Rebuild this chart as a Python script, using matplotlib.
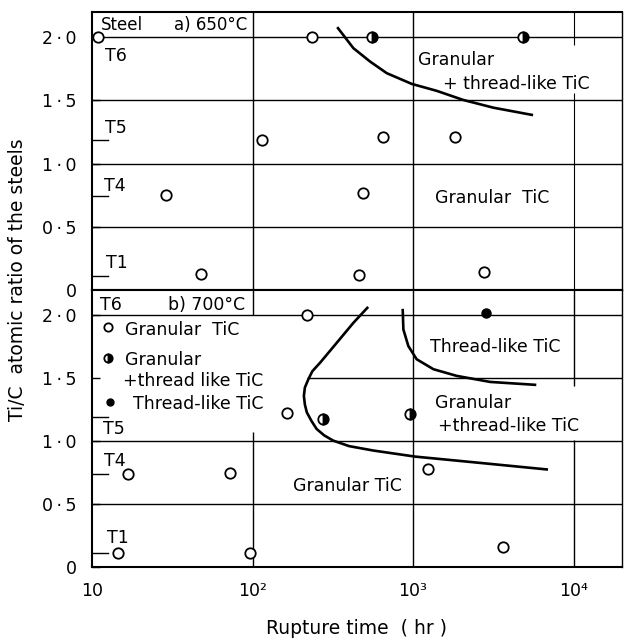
import matplotlib
matplotlib.use("Agg")
import matplotlib.pyplot as plt

plt.rcParams['font.family'] = ['DejaVu Sans']

# steels (Ti/C atomic ratio)
steel_names = ['T1', 'T4', 'T5', 'T6']
steel_ratio = [0.11, 0.74, 1.19, 2.0]

# a) 650C : rupture time (hr), Ti/C, structure
t650 = [10.9, 234, 556, 4840, 115, 650, 1830, 29, 490, 48, 460, 2750]
r650 = [2.0, 2.0, 2.0, 2.0, 1.19, 1.21, 1.21, 0.75, 0.77, 0.13, 0.12, 0.14]
k650 = ['open', 'open', 'half', 'half', 'open', 'open', 'open',
        'open', 'open', 'open', 'open', 'open']

# b) 700C
t700 = [219, 2830, 163, 276, 955, 16.8, 72, 1245, 14.5, 97, 3640]
r700 = [2.0, 2.02, 1.22, 1.175, 1.215, 0.74, 0.75, 0.78, 0.11, 0.11, 0.16]
k700 = ['open', 'full', 'open', 'half', 'half', 'open', 'open', 'open',
        'open', 'open', 'open']

# boundary curves
c650_t = [341, 425, 540, 686, 982, 1406, 2056, 3162, 5495]
c650_r = [2.072, 1.914, 1.808, 1.716, 1.631, 1.576, 1.504, 1.443, 1.386]

c700a_t = [519, 425, 335, 264, 236, 223, 212, 209, 212, 218, 233, 251, 280, 318,
           400, 566, 1028, 2377, 6808]
c700a_r = [2.058, 1.939, 1.781, 1.623, 1.555, 1.492, 1.425, 1.360, 1.290, 1.228,
           1.160, 1.096, 1.045, 1.004, 0.960, 0.925, 0.877, 0.832, 0.775]

c700b_t = [863, 871, 935, 1054, 1340, 1871, 3020, 5754]
c700b_r = [2.040, 1.887, 1.755, 1.650, 1.571, 1.518, 1.470, 1.447]

W, H = 625, 643
XMAX = 10 ** (1 + 530 / 160.5)


def fx(x):
    return x / W


def fy(y):
    return 1 - y / H


fig = plt.figure(figsize=(6.25, 6.43), dpi=100)
ax_top = fig.add_axes([fx(92), fy(290), 530 / W, 278 / H])
ax_bot = fig.add_axes([fx(92), fy(567), 530 / W, 277 / H])

style = {'open': dict(marker='o', ms=7.5, mfc='white', mec='black', mew=1.3),
         'half': dict(marker='o', ms=7.5, mfc='black', mfcalt='white', mec='black',
                      mew=1.3, fillstyle='right'),
         'full': dict(marker='o', ms=6.5, mfc='black', mec='black')}

gl = dict(color='black', lw=1.0, zorder=1)

for ax in (ax_top, ax_bot):
    ax.set_xscale('log')
    ax.set_xlim(10, XMAX)
    ax.set_ylim(0, 2.2)
    ax.set_yticks([0, 0.5, 1.0, 1.5, 2.0])
    ax.set_yticklabels(['0', '0\u2009·\u20095', '1\u2009·\u20090',
                        '1\u2009·\u20095', '2\u2009·\u20090'], fontsize=12.5)
    ax.tick_params(axis='y', direction='in', length=6, width=1, pad=11)
    ax.tick_params(axis='x', which='both', length=0)
    ax.minorticks_off()
    for s in ax.spines.values():
        s.set_linewidth(1.5)
    ax.spines['right'].set_linewidth(1.0)
    # Ti/C level marks of the steels
    for r in steel_ratio[:3]:
        ax.axhline(r, xmin=0, xmax=0.03, color='black', lw=1.0)

ax_top.set_xticks([])
ax_bot.set_xticks([10, 100, 1000, 10000])
ax_bot.set_xticklabels(['10', '10²', '10³', '10⁴'], fontsize=12.5)
ax_bot.tick_params(axis='x', pad=11)

# grid, top panel
for y in [0.5, 1.0, 1.5, 2.0]:
    ax_top.axhline(y, **gl)
ax_top.axvline(100, **gl)
ax_top.axvline(1000, **gl)
ax_top.vlines(10000, 0, 1.56, lw=0.8, color='black', zorder=1)
ax_top.vlines(10000, 1.94, 2.2, lw=0.8, color='black', zorder=1)

# grid, bottom panel
for y in [0.5, 1.0, 2.0]:
    ax_bot.axhline(y, **gl)
ax_bot.hlines(1.5, 220, XMAX, **gl)
ax_bot.vlines(100, 0, 1.07, **gl)
ax_bot.vlines(100, 2.0, 2.2, **gl)
ax_bot.axvline(1000, **gl)
ax_bot.vlines(10000, 0, 1.01, **gl)
ax_bot.vlines(10000, 1.44, 2.2, **gl)

for ax, t, r, k in [(ax_top, t650, r650, k650), (ax_bot, t700, r700, k700)]:
    for xi, yi, ki in zip(t, r, k):
        ax.plot([xi], [yi], ls='none', zorder=4, clip_on=False, **style[ki])

ax_top.plot(c650_t, c650_r, color='black', lw=1.9, zorder=3)
ax_bot.plot(c700a_t, c700a_r, color='black', lw=1.9, zorder=3)
ax_bot.plot(c700b_t, c700b_r, color='black', lw=1.9, zorder=3)

fs = 12.5


def label(x, y, s, size=fs, ha='left'):
    fig.text(fx(x), fy(y), s, fontsize=size, ha=ha, va='center')


# top panel texts
label(101, 25, 'Steel', 12)
label(247, 25, 'a) 650°C', 12, 'right')
label(105, 56, 'T6')
label(105, 128, 'T5')
label(104, 186, 'T4')
label(106, 263, 'T1')
label(418, 60, 'Granular')
label(443, 84, '+ thread-like TiC')
label(435, 198, 'Granular  TiC')

# bottom panel texts
label(100, 305, 'T6')
label(245, 305, 'b) 700°C', 12.5, 'right')
label(103, 429, 'T5')
label(104, 461, 'T4')
label(107, 538, 'T1')
label(430, 347, 'Thread-like TiC')
label(435, 403, 'Granular')
label(438, 426, '+thread-like TiC')
label(293, 486, 'Granular TiC')

# legend
for (mx, my), k in zip([(108, 327), (108, 358), (110, 402)], ['open', 'half', 'full']):
    st = dict(style[k])
    st['ms'] = st['ms'] - 1.5
    fig.add_artist(plt.Line2D([fx(mx)], [fy(my)], transform=fig.transFigure,
                              ls='none', **st))
label(125, 330, 'Granular  TiC')
label(125, 360, 'Granular')
label(123, 381, '+thread like TiC')
label(133, 404, 'Thread-like TiC')

fig.text(fx(357), fy(628), 'Rupture time  ( hr )', fontsize=13.5,
         ha='center', va='center')
fig.text(fx(18), fy(280), 'Ti/C  atomic ratio of the steels', fontsize=13.5,
         ha='center', va='center', rotation=90)

fig.savefig('out.png', dpi=100, facecolor='white')
